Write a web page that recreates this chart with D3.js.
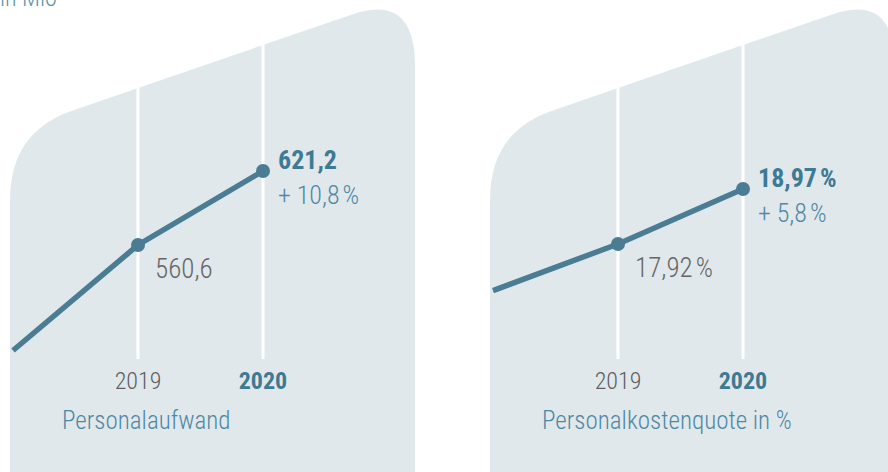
<!DOCTYPE html>
<html>
<head lang="de">
    <meta charset="UTF-8">
    <title></title>
    <script src="https://cdn.jsdelivr.net/npm/d3@7/dist/d3.min.js" charset="UTF-8"></script>
    <style>
        body{margin:0;background:#fff;}
        text{font-family:"Roboto Condensed","Roboto",sans-serif;}
    </style>
</head>
<body>
<script>
    // Daten
    var years=[2018,2019,2020];
    var personalaufwand=[474.2,560.6,621.2];
    var personalquote=[17.03,17.92,18.97];
    var changes=["+ 10,8\u202F%","+ 5,8\u202F%"];
    var titles=["Personalaufwand","Personalkostenquote in %"];
    var unitLabel="in Mio";

    var de=d3.formatLocale({decimal:",",thousands:".",grouping:[3],currency:["","€"]});

    var panels=[
        {values:personalaufwand,fmt:de.format(".1f"),suffix:"",change:changes[0],title:titles[0]},
        {values:personalquote,fmt:de.format(".2f"),suffix:"\u202F%",change:changes[1],title:titles[1]}
    ];

    var svg=d3.select("body").append("svg")
            .attr("width",888)
            .attr("height",472);

    svg.append("text")
            .attr("x",0)
            .attr("y",6)
            .style("font-size","24px")
            .style("font-weight",300)
            .style("fill","#5a93ad")
            .text(unitLabel);

    // x: Jahre, gleiche Position in beiden Feldern
    var x=d3.scaleLinear().domain([2019,2020]).range([138,263]);

    // obere Kante des Feldes: schräge Linie
    function topY(px){return 88-0.344*(px-138);}
    function panelPath(){
        var l=10,r=415;
        return "M"+l+",480 L"+l+",200"+
                " Q"+l+","+topY(l)+" 72,"+topY(72)+
                " L352,"+topY(352)+
                " Q"+r+","+topY(r)+" "+r+",66"+
                " L"+r+",480 Z";
    }

    // eigene Skala je Feld, aus den zwei letzten Werten
    var yRanges=[[245,171],[244,189]];

    var g=svg.selectAll("g.panel")
            .data(panels)
            .enter()
            .append("g")
            .attr("class","panel")
            .attr("transform",function(d,i){return "translate("+(i*480)+",0)";});

    g.append("clipPath")
            .attr("id",function(d,i){return "clip"+i;})
            .append("path")
            .attr("d",panelPath());

    g.append("path")
            .attr("d",panelPath())
            .style("fill","#e1e8ec");

    g.each(function(d,i){
        var p=d3.select(this);
        var y=d3.scaleLinear().domain([d.values[1],d.values[2]]).range(yRanges[i]);
        var body=p.append("g").attr("clip-path","url(#clip"+i+")");

        body.selectAll("line.grid")
                .data(years.slice(1))
                .enter()
                .append("line")
                .attr("x1",function(v){return x(v);})
                .attr("x2",function(v){return x(v);})
                .attr("y1",0)
                .attr("y2",359)
                .style("stroke","#fff")
                .style("stroke-width",3);

        var line=d3.line()
                .x(function(v,k){return x(years[k]);})
                .y(function(v){return y(v);});

        body.append("path")
                .attr("d",line(d.values))
                .style("fill","none")
                .style("stroke","#4a7d93")
                .style("stroke-width",5.5);

        body.selectAll("circle")
                .data(d.values.slice(1))
                .enter()
                .append("circle")
                .attr("cx",function(v,k){return x(years[k+1]);})
                .attr("cy",function(v){return y(v);})
                .attr("r",7)
                .style("fill","#4a7d93");

        // Wert 2019
        p.append("text")
                .attr("x",x(2019)+17)
                .attr("y",y(d.values[1])+33)
                .style("font-size","27px")
                .style("font-weight",300)
                .style("fill","#666666")
                .text(d.fmt(d.values[1])+d.suffix);

        // Wert 2020
        p.append("text")
                .attr("x",x(2020)+15)
                .attr("y",y(d.values[2])-2)
                .style("font-size","26px")
                .style("font-weight",700)
                .style("fill","#3d7a94")
                .text(d.fmt(d.values[2])+d.suffix);

        p.append("text")
                .attr("x",x(2020)+15)
                .attr("y",y(d.values[2])+33)
                .style("font-size","26px")
                .style("font-weight",300)
                .style("fill","#4f89a3")
                .text(d.change);

        // Jahre
        p.selectAll("text.year")
                .data(years.slice(1))
                .enter()
                .append("text")
                .attr("class","year")
                .attr("x",function(v){return x(v);})
                .attr("y",389)
                .attr("text-anchor","middle")
                .style("font-size","24px")
                .style("font-weight",function(v,k){return k==1?700:300;})
                .style("fill",function(v,k){return k==1?"#3d7a94":"#5e5e5e";})
                .text(function(v){return v;});

        p.append("text")
                .attr("x",62)
                .attr("y",429)
                .style("font-size","25px")
                .style("font-weight",300)
                .style("fill","#4e88a3")
                .text(d.title);
    });
</script>
</body>
</html>
